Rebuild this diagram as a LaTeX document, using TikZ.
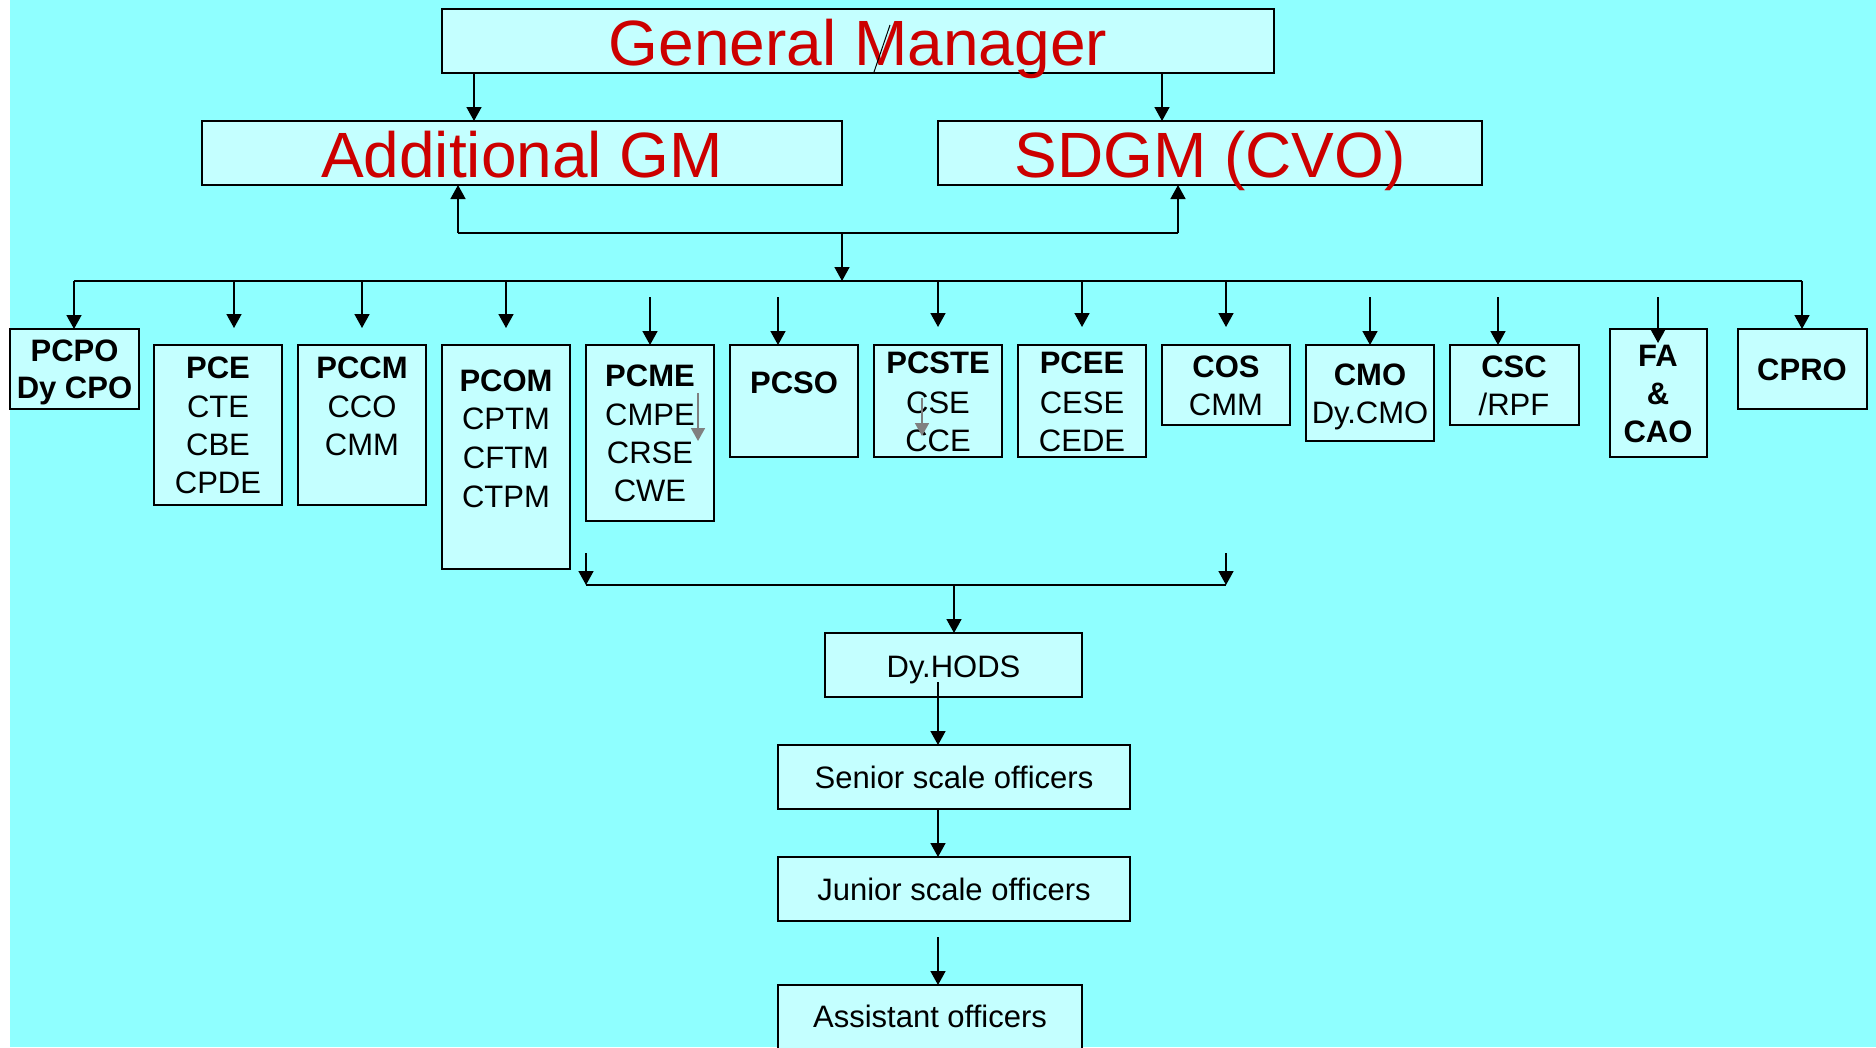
\documentclass[tikz,border=0pt]{standalone}
\usepackage{fontspec}
\setmainfont{Liberation Sans}
\usetikzlibrary{arrows.meta}
\definecolor{bgc}{RGB}{143,255,255}
\definecolor{boxc}{RGB}{196,255,255}
\definecolor{redc}{RGB}{204,0,0}
\newcommand\mkbox[5]{%
  \pgfmathsetmacro\obw{#4-#2}\pgfmathsetmacro\obh{#5-#3}%
  \pgfmathsetmacro\obx{(#2+#4)/2}\pgfmathsetmacro\oby{(#3+#5)/2}%
  \node[orgbox, minimum width=\obw pt, minimum height=\obh pt] (#1) at (\obx,\oby) {};}
\begin{document}
\begin{tikzpicture}[x=1pt,y=-1pt,
  orgbox/.style={draw=black, line width=1.8pt, fill=boxc, rectangle, inner sep=0pt, outer sep=0pt},
  arr/.style={line width=1.6pt, -{Triangle[length=14pt,width=15pt]}},
  garr/.style={line width=1.6pt, draw=gray, -{Triangle[length=13pt,width=14pt]}},
  busline/.style={line width=2.5pt},
  txt/.style={font=\fontsize{31}{37}\selectfont, anchor=base, inner sep=0pt},
  btxt/.style={font=\fontsize{31}{37}\selectfont\bfseries, anchor=base, inner sep=0pt},
  bigtxt/.style={font=\fontsize{64}{70}\selectfont, text=redc, anchor=base, inner sep=0pt},
]
\useasboundingbox (0,0) rectangle (1876,1047);
\clip (0,0) rectangle (1876,1047);
\fill[white] (0,0) rectangle (10,1047);
\fill[bgc] (10,0) rectangle (1876,1047);

% boxes
\mkbox{gm}{442}{9}{1274}{73}
\mkbox{agm}{202}{121}{842}{185}
\mkbox{sdgm}{938}{121}{1482}{185}
\mkbox{pcpo}{10}{329}{139}{409}
\mkbox{pce}{154}{345}{282}{505}
\mkbox{pccm}{298}{345}{426}{505}
\mkbox{pcom}{442}{345}{570}{569}
\mkbox{pcme}{586}{345}{714}{521}
\mkbox{pcso}{730}{345}{858}{457}
\mkbox{pcste}{874}{345}{1002}{457}
\mkbox{pcee}{1018}{345}{1146}{457}
\mkbox{cos}{1162}{345}{1290}{425}
\mkbox{cmo}{1306}{345}{1434}{441}
\mkbox{csc}{1450}{345}{1579}{425}
\mkbox{fa}{1610}{329}{1707}{457}
\mkbox{cpro}{1738}{329}{1867}{409}
\mkbox{hods}{825}{633}{1082}{697}
\mkbox{senior}{778}{745}{1130}{809}
\mkbox{junior}{778}{857}{1130}{921}
\mkbox{asst}{778}{985}{1082}{1075}

% texts
\node[bigtxt] (tgm) at (858,65) {General Manager};
\node[bigtxt] (tagm) at (522,177) {Additional GM};
\node[bigtxt] (tsdgm) at (1210,177) {SDGM (CVO)};

\node[btxt] (tpcpo1) at (74.5,361) {PCPO};
\node[btxt] (tpcpo2) at (74.5,398) {Dy CPO};

\node[btxt] (tpce1) at (218,378) {PCE};
\node[txt] (tpce2) at (218,417) {CTE};
\node[txt] (tpce3) at (218,455) {CBE};
\node[txt] (tpce4) at (218,493) {CPDE};

\node[btxt] (tpccm1) at (362,378) {PCCM};
\node[txt] (tpccm2) at (362,417) {CCO};
\node[txt] (tpccm3) at (362,455) {CMM};

\node[btxt] (tpcom1) at (506,391) {PCOM};
\node[txt] (tpcom2) at (506,429) {CPTM};
\node[txt] (tpcom3) at (506,468) {CFTM};
\node[txt] (tpcom4) at (506,507) {CTPM};

\node[btxt] (tpcme1) at (650,386) {PCME};
\node[txt] (tpcme2) at (650,425) {CMPE};
\node[txt] (tpcme3) at (650,463) {CRSE};
\node[txt] (tpcme4) at (650,501) {CWE};

\node[btxt] (tpcso1) at (794,393) {PCSO};

\node[btxt] (tpcste1) at (938,373) {PCSTE};
\node[txt] (tpcste2) at (938,413) {CSE};
\node[txt] (tpcste3) at (938,451) {CCE};

\node[btxt] (tpcee1) at (1082,373) {PCEE};
\node[txt] (tpcee2) at (1082,413) {CESE};
\node[txt] (tpcee3) at (1082,451) {CEDE};

\node[btxt] (tcos1) at (1226,377) {COS};
\node[txt] (tcos2) at (1226,415) {CMM};

\node[btxt] (tcmo1) at (1370,385) {CMO};
\node[txt] (tcmo2) at (1370,423) {Dy.CMO};

\node[btxt] (tcsc1) at (1514,377) {CSC};
\node[txt] (tcsc2) at (1514,415) {/RPF};

\node[btxt] (tfa1) at (1658,366) {FA};
\node[btxt] (tfa2) at (1658,404) {\&};
\node[btxt] (tfa3) at (1658,442) {CAO};

\node[btxt] (tcpro1) at (1802,380) {CPRO};

\node[txt] (thods) at (953.5,677) {Dy.HODS};
\node[txt] (tsenior) at (954,788) {Senior scale officers};
\node[txt] (tjunior) at (954,900) {Junior scale officers};
\node[txt] (tasst) at (930,1027) {Assistant officers};

% coordinates
\coordinate (colA) at (474,0);
\coordinate (colB) at (1162,0);
\coordinate (ubL) at (458,233);
\coordinate (ubR) at (1178,233);
\coordinate (ubM) at (842,233);
\coordinate (busL) at (74,281);
\coordinate (busR) at (1802,281);
\coordinate (busM) at (842,281);
\coordinate (pceT) at (234,328);
\coordinate (pccmT) at (362,328);
\coordinate (pcomT) at (506,328);
\coordinate (pcsteT) at (938,327);
\coordinate (pceeT) at (1082,327);
\coordinate (cosT) at (1226,327);
\coordinate (pcmeS) at (650,297);
\coordinate (pcsoS) at (778,297);
\coordinate (cmoS) at (1370,297);
\coordinate (cscS) at (1498,297);
\coordinate (faS) at (1658,297);
\coordinate (faT) at (1658,343);
\coordinate (lbL) at (586,585);
\coordinate (lbR) at (1226,585);
\coordinate (lbM) at (954,585);
\coordinate (lbLs) at (586,553);
\coordinate (lbRs) at (1226,553);
\coordinate (hodsS) at (938,682);
\coordinate (jaS) at (938,937);
\coordinate (g1s) at (698,393);
\coordinate (g1e) at (698,441);
\coordinate (g2s) at (922,398);
\coordinate (g2e) at (922,436);
\coordinate (slA) at (874,72);
\coordinate (slB) at (890,25);

% connectors
\draw[arr] (gm.south -| colA) -- (agm.north -| colA);
\draw[arr] (gm.south -| colB) -- (sdgm.north -| colB);
\draw[busline] (ubL) -- (ubR);
\draw[arr] (ubL) -- (agm.south -| ubL);
\draw[arr] (ubR) -- (sdgm.south -| ubR);
\draw[arr] (ubM) -- (busM);
\draw[busline] (busL) -- (busR);
\draw[arr] (busL) -- (pcpo.north -| busL);
\draw[arr] (pceT |- busL) -- (pceT);
\draw[arr] (pccmT |- busL) -- (pccmT);
\draw[arr] (pcomT |- busL) -- (pcomT);
\draw[arr] (pcsteT |- busL) -- (pcsteT);
\draw[arr] (pceeT |- busL) -- (pceeT);
\draw[arr] (cosT |- busL) -- (cosT);
\draw[arr] (busR) -- (cpro.north -| busR);
\draw[arr] (pcmeS) -- (pcme.north -| pcmeS);
\draw[arr] (pcsoS) -- (pcso.north -| pcsoS);
\draw[arr] (cmoS) -- (cmo.north -| cmoS);
\draw[arr] (cscS) -- (csc.north -| cscS);
\draw[arr] (faS) -- (faT);
\draw[busline] (lbL) -- (lbR);
\draw[arr] (lbLs) -- (lbL);
\draw[arr] (lbRs) -- (lbR);
\draw[arr] (lbM) -- (hods.north -| lbM);
\draw[arr] (hodsS) -- (senior.north -| hodsS);
\draw[arr] (senior.south -| hodsS) -- (junior.north -| hodsS);
\draw[arr] (jaS) -- (asst.north -| jaS);
\draw[garr] (g1s) -- (g1e);
\draw[garr] (g2s) -- (g2e);
\draw[line width=1pt] (slA) -- (slB);
\end{tikzpicture}
\end{document}
